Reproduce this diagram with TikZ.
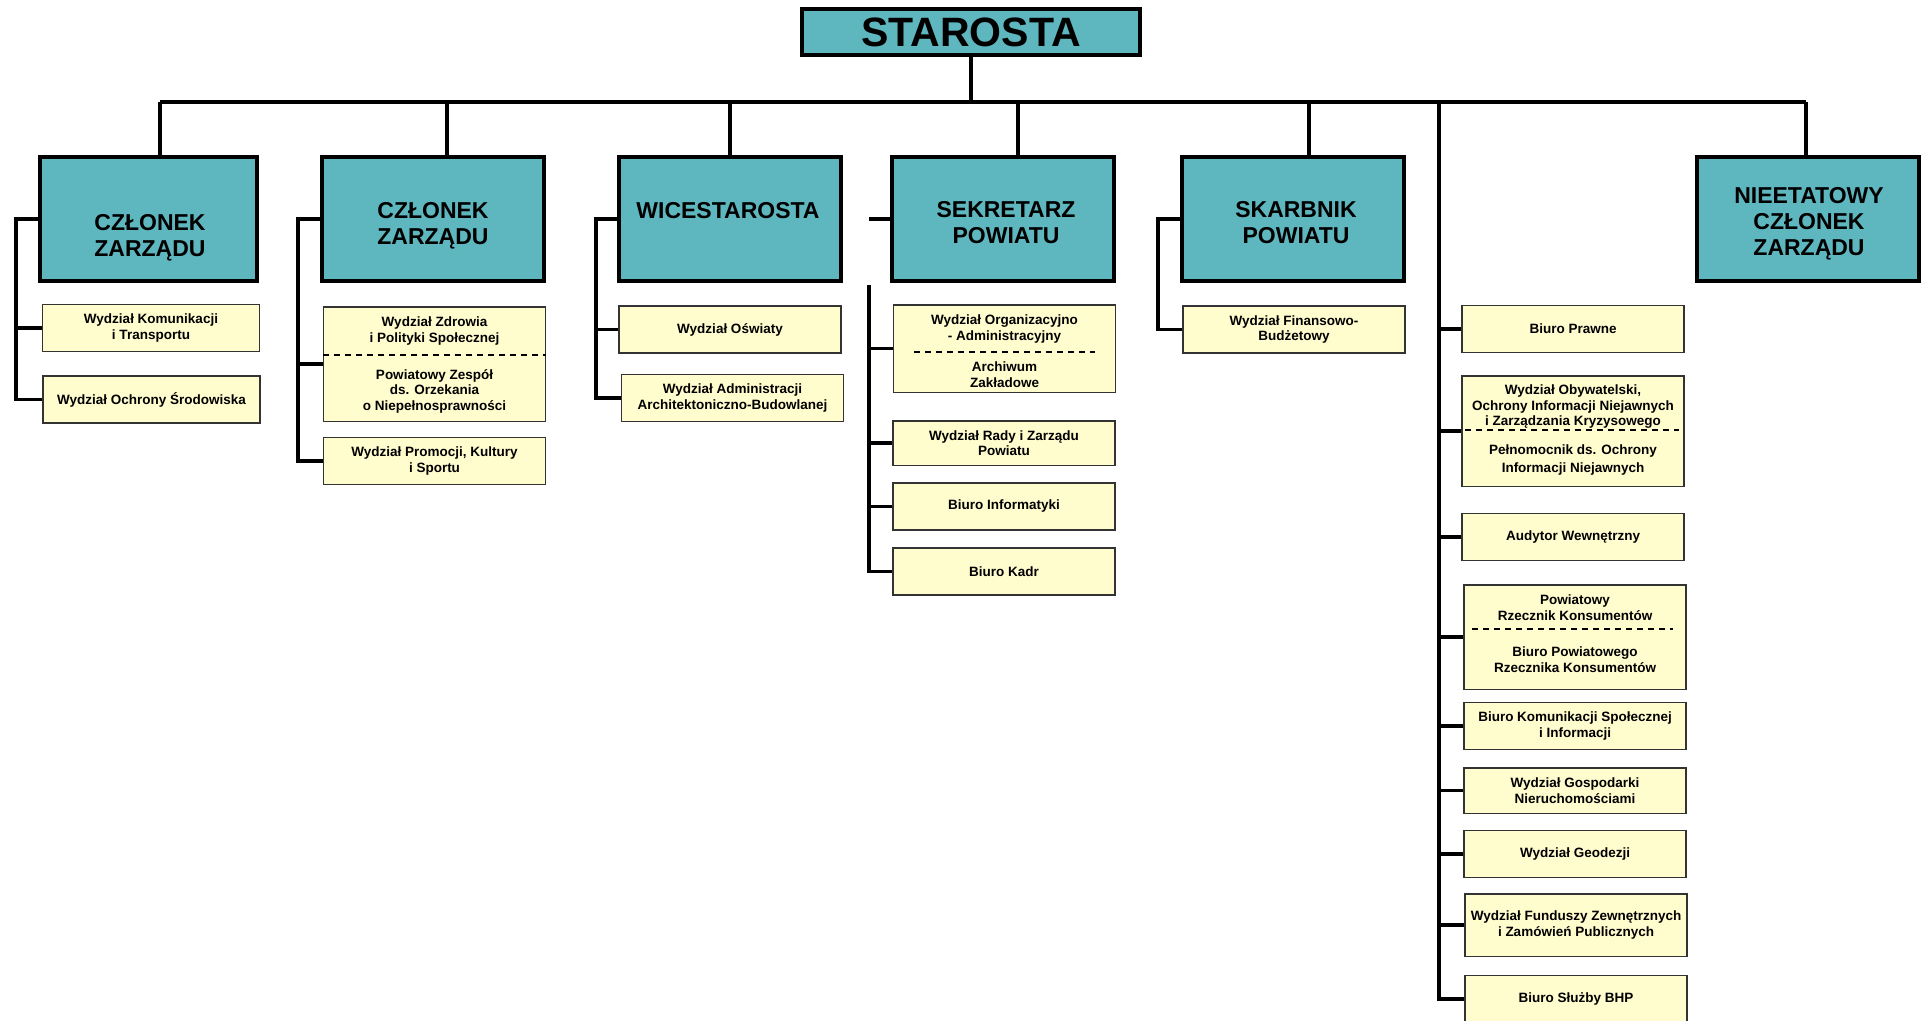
\documentclass[tikz,border=0pt]{standalone}
\usepackage{fontspec}
\setmainfont{Liberation Sans}
\usepackage{tikz}
\definecolor{turkus}{RGB}{94,182,190}
\definecolor{krem}{RGB}{255,252,206}
\tikzset{
	nieb/.style={draw=black, line width=4pt, fill=turkus, inner sep=0pt, minimum width=222pt, minimum height=124pt},
	ntekst/.style={inner sep=0pt, align=center, font=\fontsize{23}{26}\selectfont\bfseries},
	zolt/.style={draw=black!80, line width=1.5pt, fill=krem, inner sep=0pt, minimum width=222pt, minimum height=47pt, align=center, font=\fontsize{13.5}{15.5}\selectfont\bfseries},
	tekst/.style={inner sep=0pt, align=center, font=\fontsize{13.5}{15.5}\selectfont\bfseries},
	lin/.style={line width=3.5pt},
	podz/.style={line width=2pt, dash pattern=on 6pt off 5pt},
}

\begin{document}
\begin{tikzpicture}[x=1pt, y=-1pt]
	\useasboundingbox (0,0) rectangle (1921,1020);

	\node[nieb, minimum width=338pt, minimum height=46pt, font=\fontsize{41}{44}\selectfont\bfseries] (star) at (971,32) {STAROSTA};

	\node[nieb, minimum width=217pt] (cz1) at (148.5,219) {};
	\node[ntekst] (cz1 t) at (150,238) {CZŁONEK\\ZARZĄDU};
	\node[nieb] (cz2) at (433,219) {};
	\node[ntekst] (cz2 t) at (433,226) {CZŁONEK\\ZARZĄDU};
	\node[nieb] (wice) at (730,219) {};
	\node[ntekst] (wice t) at (728,210.5) {WICESTAROSTA};
	\node[nieb] (sek) at (1003,219) {};
	\node[ntekst] (sek t) at (1006,223) {SEKRETARZ\\POWIATU};
	\node[nieb] (skarb) at (1293,219) {};
	\node[ntekst] (skarb t) at (1296,222.5) {SKARBNIK\\POWIATU};
	\node[nieb] (niet) at (1808,219) {};
	\node[ntekst] (niet t) at (1809,224) {NIEETATOWY\\CZŁONEK\\ZARZĄDU};

	% czlonek 1
	\node[zolt, minimum width=217pt] (kom) at (151,328) {Wydział Komunikacji\\i Transportu};
	\node[zolt, minimum width=217pt] (ochr) at (151.5,399.5) {Wydział Ochrony Środowiska};

	% czlonek 2
	\node[zolt, minimum height=114.5pt] (zdr) at (434.5,364) {};
	\node[tekst] (zdr a) at (434.5,331) {Wydział Zdrowia\\i Polityki Społecznej};
	\node[tekst] (zdr b) at (434.5,391) {Powiatowy Zespół\\ds. Orzekania\\o Niepełnosprawności};
	\node[zolt] (prom) at (434.5,461) {Wydział Promocji, Kultury\\i Sportu};

	% wicestarosta
	\node[zolt] (osw) at (730,329.5) {Wydział Oświaty};
	\node[zolt] (adm) at (732.5,398) {Wydział Administracji\\Architektoniczno-Budowlanej};

	% sekretarz
	\node[zolt, minimum height=87.5pt] (org) at (1004.5,348.5) {};
	\node[tekst] (org a) at (1004.5,329) {Wydział Organizacyjno\\- Administracyjny};
	\node[tekst] (org b) at (1004.5,374.5) {Archiwum\\Zakładowe};
	\node[zolt, minimum height=44.5pt] (rady) at (1004,443) {Wydział Rady i Zarządu\\Powiatu};
	\node[zolt] (inf) at (1004,506.5) {Biuro Informatyki};
	\node[zolt] (kadr) at (1004,571.5) {Biuro Kadr};

	% skarbnik
	\node[zolt] (fin) at (1294,329.5) {Wydział Finansowo-\\Budżetowy};

	% starosta - biura
	\node[zolt] (praw) at (1573,329) {Biuro Prawne};
	\node[zolt, minimum height=110.5pt] (obyw) at (1573,431) {};
	\node[tekst] (obyw a) at (1573,407) {Wydział Obywatelski,\\Ochrony Informacji Niejawnych\\i Zarządzania Kryzysowego};
	\node[tekst] (obyw b) at (1573,460) {Pełnomocnik ds. Ochrony\\[3pt]Informacji Niejawnych};
	\node[zolt] (aud) at (1573,537) {Audytor Wewnętrzny};
	\node[zolt, minimum height=104.5pt] (rzecz) at (1575,637) {};
	\node[tekst] (rzecz a) at (1575,607.5) {Powiatowy\\Rzecznik Konsumentów};
	\node[tekst] (rzecz b) at (1575,659.5) {Biuro Powiatowego\\Rzecznika Konsumentów};
	\node[zolt] (ksp) at (1575,726) {Biuro Komunikacji Społecznej\\i Informacji};
	\node[zolt, minimum height=45.5pt] (gosp) at (1575,790.5) {Wydział Gospodarki\\Nieruchomościami};
	\node[zolt] (geo) at (1575,854) {Wydział Geodezji};
	\node[zolt, minimum height=62.5pt] (fund) at (1576,925) {Wydział Funduszy Zewnętrznych\\i Zamówień Publicznych};
	\node[zolt] (bhp) at (1576,999) {Biuro Służby BHP};

	% kreski podzialu
	\draw[podz] ([yshift=9pt]zdr.west) -- ([yshift=9pt]zdr.east);
	\draw[podz] ([xshift=21.5pt, yshift=-3.5pt]org.west) -- ([xshift=-21.5pt, yshift=-3.5pt]org.east);
	\draw[podz] ([xshift=4pt, yshift=1pt]obyw.west) -- ([xshift=-6pt, yshift=1pt]obyw.east);
	\draw[podz] ([xshift=9pt, yshift=8pt]rzecz.west) -- ([xshift=-14pt, yshift=8pt]rzecz.east);

	% szyna
	\coordinate (bus l) at (160,102);
	\coordinate (bus r) at (1806,102);
	\coordinate (d2) at (447,102);
	\coordinate (d4) at (1018,102);
	\coordinate (d5) at (1309,102);
	\coordinate (d6) at (1439,102);
	\draw[lin] (star.south) -- (star.south |- bus l);
	\draw[lin] (bus l) -- (bus r);
	\draw[lin] (bus l) -- (bus l |- cz1.north);
	\draw[lin] (d2) -- (d2 |- cz2.north);
	\draw[lin] (wice.north |- bus l) -- (wice.north);
	\draw[lin] (d4) -- (d4 |- sek.north);
	\draw[lin] (d5) -- (d5 |- skarb.north);
	\draw[lin] (bus r) -- (bus r |- niet.north);

	% galezie
	\coordinate (s1) at (16,0);
	\coordinate (s2) at (298,0);
	\coordinate (s3) at (596,0);
	\coordinate (s4) at (869,285);
	\coordinate (s5) at (1158,0);

	\draw[lin] (cz1.west) -- (cz1.west -| s1) |- (ochr.west);
	\draw[lin] (kom.west -| s1) -- (kom.west);

	\draw[lin] (cz2.west) -- (cz2.west -| s2) |- (prom.west);
	\draw[lin] (zdr.west -| s2) -- (zdr.west);

	\draw[lin] (wice.west) -- (wice.west -| s3) |- (adm.west);
	\draw[lin] (osw.west -| s3) -- (osw.west);

	\draw[lin] (sek.west -| s4) -- (sek.west);
	\draw[lin] (s4) |- (kadr.west);
	\draw[lin] (org.west -| s4) -- (org.west);
	\draw[lin] (rady.west -| s4) -- (rady.west);
	\draw[lin] (inf.west -| s4) -- (inf.west);

	\draw[lin] (skarb.west) -- (skarb.west -| s5) |- (fin.west);

	\draw[lin] (d6) |- (bhp.west);
	\draw[lin] (praw.west -| d6) -- (praw.west);
	\draw[lin] (obyw.west -| d6) -- (obyw.west);
	\draw[lin] (aud.west -| d6) -- (aud.west);
	\draw[lin] (rzecz.west -| d6) -- (rzecz.west);
	\draw[lin] (ksp.west -| d6) -- (ksp.west);
	\draw[lin] (gosp.west -| d6) -- (gosp.west);
	\draw[lin] (geo.west -| d6) -- (geo.west);
	\draw[lin] (fund.west -| d6) -- (fund.west);
\end{tikzpicture}
\end{document}
